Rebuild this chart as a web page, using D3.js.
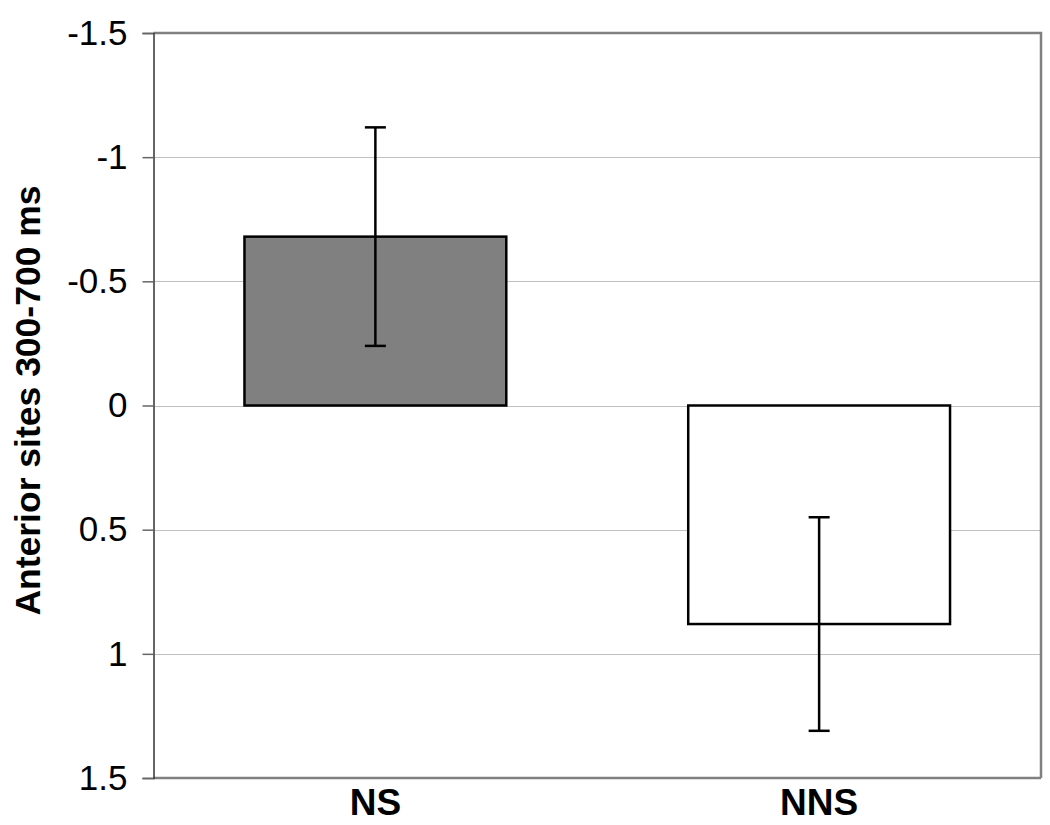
<!DOCTYPE html>
<html>
<head>
<meta charset="utf-8">
<script src="https://cdn.jsdelivr.net/npm/d3@7"></script>
<style>
  html, body { margin: 0; padding: 0; background: #fff; }
  svg { display: block; }
  text { font-family: "Liberation Sans", Arial, sans-serif; fill: #000; }
</style>
</head>
<body>
<svg id="chart" width="1050" height="825"></svg>
<script>
const categories = ["NS", "NNS"];
const values = [-0.68, 0.88];
const errors = [0.44, 0.43];
const fills = ["#808080", "#ffffff"];
const yTicks = [-1.5, -1, -0.5, 0, 0.5, 1, 1.5];
const yTitle = "Anterior sites 300-700 ms";

const svg = d3.select("#chart");
const L = 153.5, R = 1041, T = 33, B = 778;

const x = d3.scaleBand().domain(categories).range([L, R]).paddingInner(0.41).paddingOuter(0.205);
const y = d3.scaleLinear().domain([-1.5, 1.5]).range([T, B]);

// gridlines
svg.append("g").selectAll("line").data(yTicks.filter(d => d !== -1.5 && d !== 1.5)).join("line")
  .attr("x1", L).attr("x2", R)
  .attr("y1", d => Math.round(y(d)) + 0.5).attr("y2", d => Math.round(y(d)) + 0.5)
  .attr("stroke", "#c0c0c0").attr("stroke-width", 1);

// plot border (top & right)
svg.append("path")
  .attr("d", `M${L},${T} H${R} V${B}`)
  .attr("fill", "none").attr("stroke", "#808080").attr("stroke-width", 2.5);

// bars
const data = categories.map((c, i) => ({c, v: values[i], e: errors[i], f: fills[i]}));
svg.append("g").selectAll("rect").data(data).join("rect")
  .attr("x", d => x(d.c))
  .attr("width", x.bandwidth())
  .attr("y", d => Math.min(y(0), y(d.v)))
  .attr("height", d => Math.abs(y(d.v) - y(0)))
  .attr("fill", d => d.f)
  .attr("stroke", "#000").attr("stroke-width", 2.5);

// error bars
const eg = svg.append("g").attr("stroke", "#000").attr("stroke-width", 2.5);
data.forEach(d => {
  const cx = x(d.c) + x.bandwidth() / 2;
  eg.append("line").attr("x1", cx).attr("x2", cx).attr("y1", y(d.v - d.e)).attr("y2", y(d.v + d.e));
  eg.append("line").attr("x1", cx - 10.5).attr("x2", cx + 10.5).attr("y1", y(d.v - d.e)).attr("y2", y(d.v - d.e));
  eg.append("line").attr("x1", cx - 10.5).attr("x2", cx + 10.5).attr("y1", y(d.v + d.e)).attr("y2", y(d.v + d.e));
});

// bottom axis line
svg.append("line").attr("x1", L).attr("x2", R).attr("y1", B).attr("y2", B)
  .attr("stroke", "#808080").attr("stroke-width", 2.5);

// y axis
const yAxis = d3.axisLeft(y).tickValues(yTicks).tickSize(11).tickPadding(15)
  .tickFormat(d => String(d));
const ya = svg.append("g").attr("transform", `translate(${L},0)`).call(yAxis);
ya.select(".domain").attr("stroke", "#333").attr("stroke-width", 1.5);
ya.selectAll(".tick line").attr("stroke", "#666").attr("stroke-width", 1.5);
ya.selectAll(".tick text").attr("font-size", 35).attr("font-family", "Liberation Sans, Arial, sans-serif").attr("fill", "#000");

// x labels
const xAxis = d3.axisBottom(x).tickSize(0).tickPadding(11);
const xa = svg.append("g").attr("transform", `translate(0,${B})`).call(xAxis);
xa.select(".domain").remove();
xa.selectAll(".tick text").attr("font-size", 37).attr("font-weight", "bold")
  .attr("font-family", "Liberation Sans, Arial, sans-serif").attr("fill", "#000");

// y title
svg.append("text")
  .attr("transform", `translate(40,${(T + B) / 2 - 5}) rotate(-90)`)
  .attr("text-anchor", "middle")
  .attr("font-size", 35.5).attr("font-weight", "bold")
  .text(yTitle);
</script>
</body>
</html>
